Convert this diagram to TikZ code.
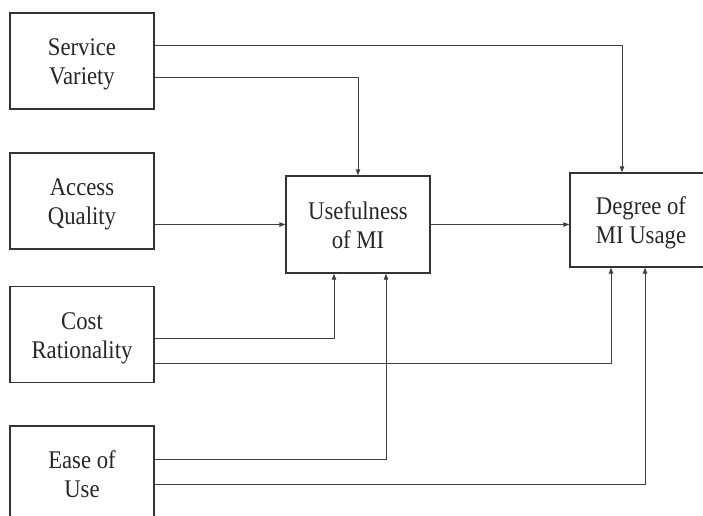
\documentclass[tikz,border=0pt]{standalone}
\usepackage{fontspec}
\setmainfont{Liberation Serif}
\usetikzlibrary{arrows.meta}
\newcommand{\boxtxt}[1]{\raisebox{-3.5pt}[\height][\depth]{\scalebox{1}[1.12]{\begin{tabular}{@{}c@{}}#1\end{tabular}}}}
\begin{document}
\begin{tikzpicture}[x=1pt,y=-1pt,
  blk/.style={draw=black!80,line width=1.4pt,minimum width=144pt,minimum height=96pt,inner sep=0pt,
    font=\fontsize{22.7}{26}\selectfont,text=black!85},
  conn/.style={draw=black!75,line width=0.9pt,-{Triangle[length=6pt,width=4.5pt]}}]
\useasboundingbox (0,0) rectangle (703,515);
\clip (0,0) rectangle (703,515);
\node[blk] (sv) at (82,61) {\boxtxt{Service\\Variety}};
\node[blk] (aq) at (82,201) {\boxtxt{Access\\Quality}};
\node[blk] (cr) at (82,334.5) {\boxtxt{Cost\\Rationality}};
\node[blk] (eu) at (82,474) {\boxtxt{Ease of\\Use}};
\node[blk,minimum height=97pt] (us) at (358,224.5) {\boxtxt{Usefulness\\of MI}};
\node[blk,minimum width=142pt,minimum height=94pt] (dg) at (641,220) {\boxtxt{Degree of\\MI Usage}};
\draw[conn] ([yshift=16pt]sv.east) -| ([xshift=-19pt]dg.north);
\draw[conn] ([yshift=-16pt]sv.east) -| (us.north);
\draw[conn] (aq.east |- us.west) -- (us.west);
\draw[conn] (us.east) -- (us.east -| dg.west);
\draw[conn] ([yshift=-3.5pt]cr.east) -| ([xshift=-24pt]us.south);
\draw[conn] ([yshift=-28.5pt]cr.east) -| ([xshift=-30pt]dg.south);
\draw[conn] ([yshift=15pt]eu.east) -| ([xshift=28pt]us.south);
\draw[conn] ([yshift=-10pt]eu.east) -| ([xshift=4pt]dg.south);
\end{tikzpicture}
\end{document}
